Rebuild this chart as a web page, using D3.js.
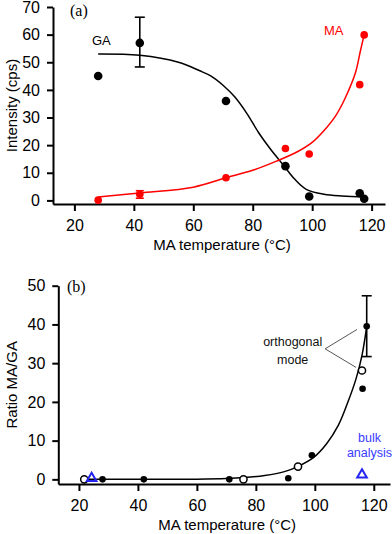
<!DOCTYPE html>
<html>
<head>
<meta charset="utf-8">
<script src="https://cdn.jsdelivr.net/npm/d3@7"></script>
<style>
  body { margin: 0; background: #fff; }
  svg { display: block; }
  text { font-family: "Liberation Sans", Arial, sans-serif; }
</style>
</head>
<body>
<svg width="392" height="534"></svg>
<script>
// ---- panel (a) : intensities ----
const tempsA = [28, 42, 71, 91, 99, 116, 117.5];
const gaValues = [45, 57, 36, 12.4, 1.4, 2.6, 0.6];
const maValues = [0.1, 2.2, 8.2, 18.8, 16.8, 41.9, 59.9];
const gaErr = [{t: 42, lo: 48.3, hi: 66.3}];
const maErr = [{t: 42, lo: 0.8, hi: 3.5}];

// fitted curves
const gaFitT = [28, 42, 55, 62, 66, 70, 74, 78, 82, 86, 90, 94, 98, 104, 110, 118];
const gaFitV = [53, 52.5, 50, 47, 45, 41.7, 37.4, 31.5, 24.5, 18.5, 13.2, 7.8, 4, 2.2, 1.6, 1.3];
const maFitT = [28, 42, 60, 71, 80, 88, 95, 100, 104, 108, 111, 114.5, 116.2, 117.5];
const maFitV = [1.2, 2.7, 4.8, 8.2, 10.9, 14.2, 17.6, 21, 25.3, 30.8, 36.8, 46, 54, 60];

// ---- panel (b) : ratio MA/GA ----
const filledT = [28, 42, 71, 91, 99, 116.2, 117.6];
const filledV = [0, 0, 0, 0.3, 6.2, 23.4, 39.5];
const filledErr = [{t: 117.6, lo: 31.7, hi: 47.4}];
const openT = [21.8, 75.8, 94.3, 116];
const openV = [0, 0, 3.3, 28.1];
const bulkT = [24.3, 116];
const bulkV = [0.3, 1.2];
const ratioFitT = [22, 40, 60, 70, 76, 83, 89.7, 94.2, 99.5, 104, 108, 111, 114, 116, 117.6];
const ratioFitV = [0, 0, 0.05, 0.2, 0.45, 1.0, 2.0, 3.3, 5.6, 9.2, 14, 19.5, 26, 32, 39.5];

const xTicks = [20, 40, 60, 80, 100, 120];
const yTicksA = [0, 10, 20, 30, 40, 50, 60, 70];
const yTicksB = [0, 10, 20, 30, 40, 50];

const RED = '#ff0000';
const BLUE = '#2424f0';

const svg = d3.select('svg');

const xA = d3.scaleLinear().domain([12.8, 124.5]).range([53, 385]);
const yA = d3.scaleLinear().domain([-1.3, 70]).range([204, 7]);
const xB = d3.scaleLinear().domain([13, 125.5]).range([58.3, 390]);
const yB = d3.scaleLinear().domain([-1.2, 50]).range([484, 285.7]);

function drawAxes(x, y, yTicks, yTitle, xTitleY) {
  const gx = svg.append('g')
      .attr('transform', `translate(0,${y.range()[0]})`)
      .call(d3.axisBottom(x).tickValues(xTicks).tickSize(7).tickPadding(9).tickSizeOuter(0));
  const gy = svg.append('g')
      .attr('transform', `translate(${x.range()[0]},0)`)
      .call(d3.axisLeft(y).tickValues(yTicks).tickSize(6).tickPadding(7).tickSizeOuter(0));
  [gx, gy].forEach(g => {
    g.attr('font-family', '"Liberation Sans", Arial, sans-serif').attr('font-size', 16);
    g.select('.domain').attr('stroke-width', 2);
    g.selectAll('.tick line').attr('stroke-width', 2);
  });
  const midX = (x.range()[0] + x.range()[1]) / 2;
  const midY = (y.range()[0] + y.range()[1]) / 2;
  svg.append('text').attr('x', midX + 3).attr('y', xTitleY)
     .attr('text-anchor', 'middle').attr('font-size', 15)
     .text('MA temperature (°C)');
  svg.append('text')
     .attr('transform', `translate(17,${midY}) rotate(-90)`)
     .attr('text-anchor', 'middle').attr('font-size', 15)
     .text(yTitle);
}

function curve(x, y, ts, vs, color) {
  const line = d3.line().x(d => x(d[0])).y(d => y(d[1])).curve(d3.curveCatmullRom);
  svg.append('path').datum(d3.zip(ts, vs))
     .attr('d', line).attr('fill', 'none')
     .attr('stroke', color).attr('stroke-width', 1.5);
}

function errorBars(x, y, data, color, cap) {
  const g = svg.append('g').attr('stroke', color).attr('stroke-width', 1.6);
  data.forEach(d => {
    g.append('line').attr('x1', x(d.t)).attr('x2', x(d.t)).attr('y1', y(d.lo)).attr('y2', y(d.hi));
    [d.lo, d.hi].forEach(v => {
      g.append('line').attr('x1', x(d.t) - cap).attr('x2', x(d.t) + cap)
       .attr('y1', y(v)).attr('y2', y(v));
    });
  });
}

// ===== panel (a) =====
drawAxes(xA, yA, yTicksA, 'Intensity (cps)', 250);

curve(xA, yA, gaFitT, gaFitV, '#000');
curve(xA, yA, maFitT, maFitV, RED);
errorBars(xA, yA, gaErr, '#000', 5);
errorBars(xA, yA, maErr, RED, 4);

svg.append('g').selectAll('circle')
   .data(d3.zip(tempsA, maValues)).join('circle')
   .attr('cx', d => xA(d[0])).attr('cy', d => yA(d[1]))
   .attr('r', 3.8).attr('fill', RED);
svg.append('g').selectAll('circle')
   .data(d3.zip(tempsA, gaValues)).join('circle')
   .attr('cx', d => xA(d[0])).attr('cy', d => yA(d[1]))
   .attr('r', 4.3).attr('fill', '#000');

svg.append('text').attr('x', 70).attr('y', 16)
   .style('font-family', '"Liberation Serif", "Times New Roman", serif')
   .attr('font-size', 16).text('(a)');
svg.append('text').attr('x', 92).attr('y', 45).attr('font-size', 13).text('GA');
svg.append('text').attr('x', 324).attr('y', 35).attr('font-size', 13)
   .attr('fill', RED).text('MA');

// ===== panel (b) =====
drawAxes(xB, yB, yTicksB, 'Ratio MA/GA', 530);

curve(xB, yB, ratioFitT, ratioFitV, '#000');
errorBars(xB, yB, filledErr, '#000', 5);

svg.append('g').selectAll('circle')
   .data(d3.zip(filledT, filledV)).join('circle')
   .attr('cx', d => xB(d[0])).attr('cy', d => yB(d[1]))
   .attr('r', 3.3).attr('fill', '#000');
svg.append('g').selectAll('circle')
   .data(d3.zip(openT, openV)).join('circle')
   .attr('cx', d => xB(d[0])).attr('cy', d => yB(d[1]))
   .attr('r', 3.6).attr('fill', '#fff')
   .attr('stroke', '#000').attr('stroke-width', 1.5);
svg.append('g').selectAll('path')
   .data(d3.zip(bulkT, bulkV)).join('path')
   .attr('transform', d => `translate(${xB(d[0])},${yB(d[1])})`)
   .attr('d', d3.symbol(d3.symbolTriangle, 40))
   .attr('fill', 'none').attr('stroke', BLUE).attr('stroke-width', 2);

svg.append('text').attr('x', 67).attr('y', 292)
   .style('font-family', '"Liberation Serif", "Times New Roman", serif')
   .attr('font-size', 16).text('(b)');

// orthogonal mode call-out
const note = svg.append('g').style('font-family', 'Lato, "Open Sans", sans-serif');
note.append('text').attr('x', 292.7).attr('y', 346).attr('text-anchor', 'middle')
    .attr('font-size', 12.5).attr('fill', '#111').text('orthogonal');
note.append('text').attr('x', 292.7).attr('y', 364).attr('text-anchor', 'middle')
    .attr('font-size', 12.5).attr('fill', '#111').text('mode');
[[114.3, 38.7], [114, 28.9]].forEach(p => {
  note.append('line')
      .attr('x1', xB(103.5)).attr('y1', yB(33.7))
      .attr('x2', xB(p[0])).attr('y2', yB(p[1]))
      .attr('stroke', '#555').attr('stroke-width', 1);
});
note.append('text').attr('x', 369.5).attr('y', 442).attr('text-anchor', 'middle')
    .attr('font-size', 12.5).attr('fill', '#3a3aff').text('bulk');
note.append('text').attr('x', 369.5).attr('y', 457).attr('text-anchor', 'middle')
    .attr('font-size', 12.5).attr('fill', '#3a3aff').text('analysis');
</script>
</body>
</html>
